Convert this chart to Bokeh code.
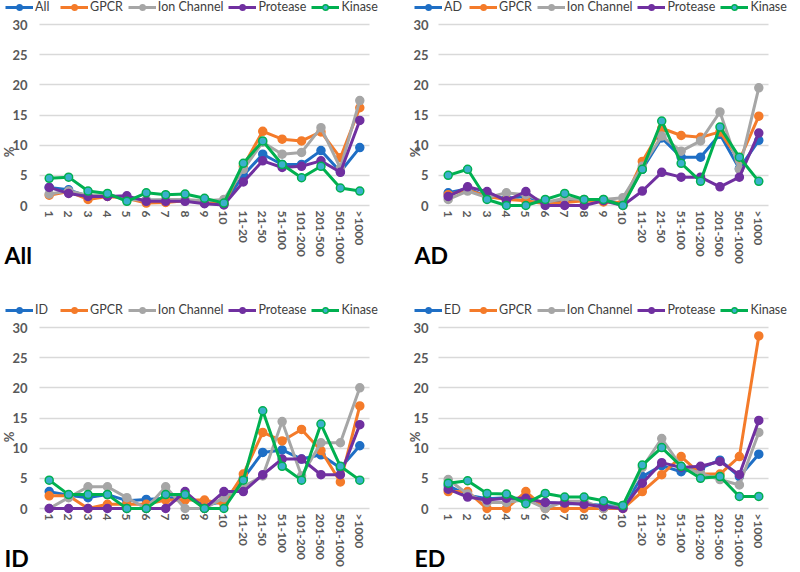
import math
from bokeh.plotting import figure
from bokeh.layouts import gridplot
from bokeh.models import FactorRange, Range1d, Legend, LegendItem, FixedTicker, Label
from bokeh.embed import file_html
from bokeh.resources import INLINE

categories = ["1", "2", "3", "4", "5", "6", "7", "8", "9", "10", "11-20", "21-50",
              "51-100", "101-200", "201-500", "501-1000", ">1000"]
y_ticks = [0, 5, 10, 15, 20, 25, 30]
target_names = ["GPCR", "Ion Channel", "Protease", "Kinase"]
panel_names = ["All", "AD", "ID", "ED"]

# Panel "All"
all_all = [3.0, 2.6, 1.5, 1.7, 1.2, 0.9, 0.8, 0.8, 0.6, 0.3, 5.0, 8.5, 6.8, 6.8, 9.1, 5.6, 9.6]
all_gpcr = [1.7, 2.3, 1.0, 1.5, 1.2, 0.4, 0.5, 0.8, 0.4, 0.3, 6.5, 12.3, 11.0, 10.7, 12.2, 7.9, 16.2]
all_ion = [1.9, 2.4, 1.7, 1.8, 1.0, 0.9, 1.0, 1.0, 0.8, 1.0, 6.0, 10.5, 8.5, 8.8, 12.9, 6.2, 17.4]
all_protease = [3.0, 2.0, 1.5, 1.5, 1.6, 0.7, 0.7, 0.7, 0.3, 0.1, 3.9, 7.4, 6.3, 6.5, 7.4, 5.5, 14.1]
all_kinase = [4.5, 4.7, 2.4, 2.0, 0.7, 2.1, 1.8, 1.9, 1.2, 0.4, 7.0, 10.7, 6.8, 4.6, 6.5, 2.9, 2.4]

# Panel "AD"
ad_ad = [2.1, 2.8, 1.5, 1.2, 1.5, 0.5, 0.8, 0.9, 0.9, 0.3, 6.0, 11.2, 8.0, 8.0, 11.8, 6.1, 10.8]
ad_gpcr = [1.8, 2.6, 1.5, 1.0, 0.8, 0.3, 0.5, 0.8, 0.6, 0.5, 7.3, 12.8, 11.6, 11.3, 12.2, 7.5, 14.8]
ad_ion = [1.0, 2.4, 1.3, 2.1, 1.8, 0.5, 1.2, 1.0, 1.0, 1.3, 6.5, 11.5, 9.0, 10.7, 15.5, 6.0, 19.5]
ad_protease = [1.5, 3.1, 2.3, 0.8, 2.3, 0.0, 0.0, 0.0, 0.8, 0.0, 2.4, 5.5, 4.7, 4.7, 3.1, 4.7, 12.0]
ad_kinase = [5.0, 6.0, 1.0, 0.0, 0.0, 1.0, 2.0, 1.0, 1.0, 0.0, 6.0, 14.0, 7.0, 4.0, 13.0, 8.0, 4.0]

# Panel "ID"
id_id = [2.8, 2.2, 1.8, 2.3, 1.3, 1.5, 1.7, 2.0, 0.5, 1.2, 5.0, 9.3, 9.7, 8.2, 8.9, 6.7, 10.4]
id_gpcr = [2.1, 2.1, 0.0, 0.7, 0.7, 0.7, 1.4, 1.4, 1.4, 0.7, 5.7, 12.6, 11.2, 13.1, 9.6, 4.4, 17.0]
id_ion = [0.0, 1.8, 3.6, 3.6, 1.8, 0.0, 3.6, 0.0, 0.0, 1.8, 3.6, 5.4, 14.4, 5.4, 10.9, 10.9, 20.0]
id_protease = [0.0, 0.0, 0.0, 0.0, 0.0, 0.0, 0.0, 2.8, 0.0, 2.8, 2.8, 5.6, 8.2, 8.2, 5.6, 5.6, 13.9]
id_kinase = [4.7, 2.3, 2.3, 2.3, 0.0, 0.0, 2.3, 2.3, 0.0, 0.0, 4.7, 16.2, 7.0, 4.7, 14.0, 7.0, 4.7]

# Panel "ED"
ed_ed = [3.8, 2.2, 1.6, 1.8, 1.5, 1.0, 0.8, 0.8, 0.5, 0.3, 5.3, 7.1, 6.1, 6.7, 8.0, 5.3, 9.0]
ed_gpcr = [2.8, 2.8, 0.0, 0.0, 2.8, 0.0, 0.0, 0.0, 0.0, 0.0, 2.8, 5.6, 8.6, 5.7, 5.7, 8.6, 28.6]
ed_ion = [4.8, 2.4, 1.0, 1.0, 1.5, 0.0, 1.2, 1.2, 0.0, 0.5, 6.8, 11.6, 7.0, 5.8, 4.8, 3.9, 12.6]
ed_protease = [3.2, 1.9, 1.4, 1.7, 1.7, 1.0, 0.9, 0.7, 0.3, 0.0, 4.2, 7.6, 6.8, 7.0, 7.8, 5.6, 14.6]
ed_kinase = [4.2, 4.6, 2.5, 2.4, 0.8, 2.5, 1.9, 1.9, 1.3, 0.5, 7.2, 10.1, 7.0, 5.0, 5.3, 2.0, 2.0]

panel_data = [
    [all_all, all_gpcr, all_ion, all_protease, all_kinase],
    [ad_ad, ad_gpcr, ad_ion, ad_protease, ad_kinase],
    [id_id, id_gpcr, id_ion, id_protease, id_kinase],
    [ed_ed, ed_gpcr, ed_ion, ed_protease, ed_kinase],
]

line_colors = ["#1F6FC5", "#F47B2A", "#A6A6A6", "#7030A0", "#00B050"]
marker_fills = ["#1F6FC5", "#F47B2A", "#A6A6A6", "#7030A0", "#3BB0CC"]

FONT = "Lato"
TXT = "#595959"

FRAME_W = 330             # pixels spanned by the 17 category bands
TOP_PX = 24               # pixels above the 30 line
PLOT_PX = 181             # pixels from 0 to 30
PXU = PLOT_PX / 30.0
COLS = [dict(w=408, leg_x=5, name_x=4, lab_off=12, title_off=-8),
        dict(w=390, leg_x=6, name_x=6, lab_off=10, title_off=-13)]
ROWS = [dict(h=303), dict(h=267)]


def make_panel(name, series, col, row):
    c, r = COLS[col], ROWS[row]
    w, h = c["w"], r["h"]
    band = FRAME_W / len(categories)
    pad = ((w - FRAME_W) / 2.0) / band
    y_end = 30 + TOP_PX / PXU
    y_start = -(h - TOP_PX - PLOT_PX) / PXU
    p = figure(width=w, height=h,
               x_range=FactorRange(*categories, range_padding=pad,
                                   range_padding_units="absolute"),
               y_range=Range1d(y_start, y_end), output_backend="svg",
               toolbar_location=None, min_border=0, min_border_left=0,
               min_border_right=0, min_border_top=0, min_border_bottom=0)
    p.outline_line_color = None
    p.background_fill_color = "white"
    p.border_fill_color = "white"
    p.xgrid.grid_line_color = None
    p.yaxis.ticker = FixedTicker(ticks=y_ticks)
    p.ygrid.ticker = FixedTicker(ticks=y_ticks)

    grid_done = False
    try:
        p.ygrid.cross_bounds = (0, len(categories))
        p.ygrid.grid_line_color = "#D9D9D9"
        p.ygrid.grid_line_width = 1.3
        grid_done = True
    except AttributeError:
        p.ygrid.grid_line_color = None
    if not grid_done:
        p.segment(x0=[0] * len(y_ticks), x1=[len(categories)] * len(y_ticks),
                  y0=y_ticks, y1=y_ticks, line_color="#D9D9D9", line_width=1.3)

    for ax in (p.xaxis[0], p.yaxis[0]):
        ax.axis_line_color = None
        ax.major_tick_line_color = None
        ax.minor_tick_line_color = None
        ax.major_tick_out = 0
        ax.major_tick_in = 0
        ax.major_label_text_font = FONT
        ax.major_label_text_font_style = "bold"
        ax.major_label_text_color = TXT
    p.yaxis.major_label_text_font_size = "13px"
    p.xaxis.major_label_text_font_size = "12px"
    p.xaxis.fixed_location = 0
    p.yaxis.fixed_location = 0
    p.yaxis.major_label_standoff = c["lab_off"]
    p.yaxis.axis_label = "%"
    p.yaxis.axis_label_standoff = c["title_off"]
    p.yaxis.axis_label_text_font = FONT
    p.yaxis.axis_label_text_font_size = "13px"
    p.yaxis.axis_label_text_font_style = "bold"
    p.yaxis.axis_label_text_color = TXT
    p.xaxis.major_label_standoff = 5
    p.xaxis.major_label_orientation = -math.pi / 2

    labels = [name] + target_names
    items = []
    for i, ys in enumerate(series):
        lr = p.line(categories, ys, line_color=line_colors[i], line_width=3)
        sr = p.scatter(categories, ys, size=8, fill_color=marker_fills[i],
                       line_color=line_colors[i], line_width=1.5)
        items.append(LegendItem(label=labels[i], renderers=[lr, sr]))

    legend = Legend(items=items, orientation="horizontal", location=(c["leg_x"], h - 14),
                    glyph_width=28, glyph_height=14, label_height=14,
                    label_standoff=2, spacing=5, padding=0, margin=0,
                    label_text_font=FONT, label_text_font_size="12.5px",
                    label_text_color="#404040", border_line_color=None,
                    background_fill_alpha=0)
    p.add_layout(legend, "center")

    base_y = h - TOP_PX - PLOT_PX - 49
    p.add_layout(Label(x=c["name_x"], y=base_y, x_units="screen", y_units="screen",
                       text=name, text_align="left", text_baseline="alphabetic",
                       text_font=FONT, text_font_size="23px", text_font_style="bold",
                       text_color="black"))
    return p


plots = []
for k, (n, d) in enumerate(zip(panel_names, panel_data)):
    plots.append(make_panel(n, d, k % 2, k // 2))

grid = gridplot([[plots[0], plots[1]], [plots[2], plots[3]]], toolbar_location=None)

open("out.html", "w").write(file_html(grid, INLINE))
